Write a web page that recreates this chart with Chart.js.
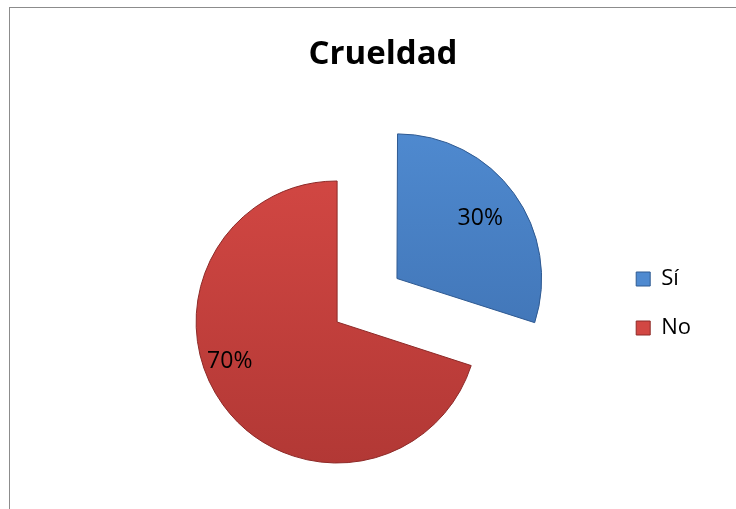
<!DOCTYPE html>
<html>
<head>
<meta charset="utf-8">
<script src="https://cdn.jsdelivr.net/npm/chart.js@4/dist/chart.umd.min.js"></script>
<style>
  html, body { margin: 0; padding: 0; background: #fff; overflow: hidden; }
  #wrap { position: relative; width: 736px; height: 509px; }
</style>
</head>
<body>
<div id="wrap"><canvas id="c" width="736" height="509"></canvas></div>
<script>
const titleText = "Crueldad";
const categories = ["Sí", "No"];
const values = [30, 70];

const fillTop = ["#4f8ad0", "#d24743"];
const fillBottom = ["#3c6eae", "#b23835"];
const edgeColors = ["#2f5a92", "#8e2a28"];

function sliceGradient(ctx) {
  const chart = ctx.chart;
  const area = chart.chartArea;
  if (!area) return fillTop[ctx.dataIndex];
  const c = chart.ctx;
  const g = c.createLinearGradient(0, 170, 0, 465);
  g.addColorStop(0, fillTop[ctx.dataIndex]);
  g.addColorStop(1, fillBottom[ctx.dataIndex]);
  return g;
}

const frame = {
  id: 'frame',
  beforeDraw(chart) {
    const c = chart.ctx;
    c.save();
    c.fillStyle = '#ffffff';
    c.fillRect(0, 0, chart.width, chart.height);
    c.strokeStyle = '#8c8c8c';
    c.lineWidth = 1;
    c.strokeRect(9.5, 7.5, 800, 600);
    c.restore();
  }
};

const sliceLabels = {
  id: 'sliceLabels',
  afterDatasetsDraw(chart, args, opts) {
    const meta = chart.getDatasetMeta(0);
    const data = chart.data.datasets[0].data;
    const total = data.reduce((a, b) => a + b, 0);
    const c = chart.ctx;
    c.save();
    c.font = opts.font;
    c.fillStyle = opts.color;
    c.textAlign = 'center';
    c.textBaseline = 'middle';
    meta.data.forEach((arc, i) => {
      const p = arc.getProps(['x', 'y', 'startAngle', 'endAngle', 'outerRadius']);
      const off = (arc.options.offset || 0) / 4;
      const mid = (p.startAngle + p.endAngle) / 2;
      const ang = mid + (opts.angleShift[i] || 0) * Math.PI / 180;
      const r = p.outerRadius * opts.radiusFrac[i];
      const x = p.x + Math.cos(mid) * off + Math.cos(ang) * r;
      const y = p.y + Math.sin(mid) * off + Math.sin(ang) * r;
      c.fillText(Math.round(data[i] / total * 100) + '%', x, y);
    });
    c.restore();
  }
};

new Chart(document.getElementById('c'), {
  type: 'pie',
  data: {
    labels: categories,
    datasets: [{
      data: values,
      backgroundColor: sliceGradient,
      borderColor: edgeColors,
      borderWidth: 1,
      offset: [296, 0],
      hoverOffset: 0
    }]
  },
  plugins: [frame, sliceLabels],
  options: {
    responsive: false,
    animation: false,
    devicePixelRatio: 1,
    radius: 141,
    layout: { padding: { left: 65, right: 35, top: 33.5, bottom: -64.5 } },
    events: [],
    plugins: {
      tooltip: { enabled: false },
      title: {
        display: true,
        text: titleText,
        color: '#000',
        font: { family: "'Open Sans', sans-serif", size: 33, weight: 'bold', lineHeight: 1.2 },
        padding: { top: 1.3, bottom: 60.6 }
      },
      legend: {
        display: true,
        position: 'right',
        align: 'center',
        labels: {
          color: '#000',
          boxWidth: 14,
          boxHeight: 14,
          padding: 27,
          font: { family: "'Open Sans', sans-serif", size: 22 },
          generateLabels(chart) {
            return chart.data.labels.map((t, i) => ({
              text: t,
              fillStyle: fillTop[i],
              strokeStyle: edgeColors[i],
              lineWidth: 1,
              index: i,
              hidden: false
            }));
          }
        }
      },
      sliceLabels: {
        font: "23px 'Open Sans', sans-serif",
        color: '#000',
        radiusFrac: [0.73, 0.81],
        angleShift: [0, 16]
      }
    }
  }
});
</script>
</body>
</html>
